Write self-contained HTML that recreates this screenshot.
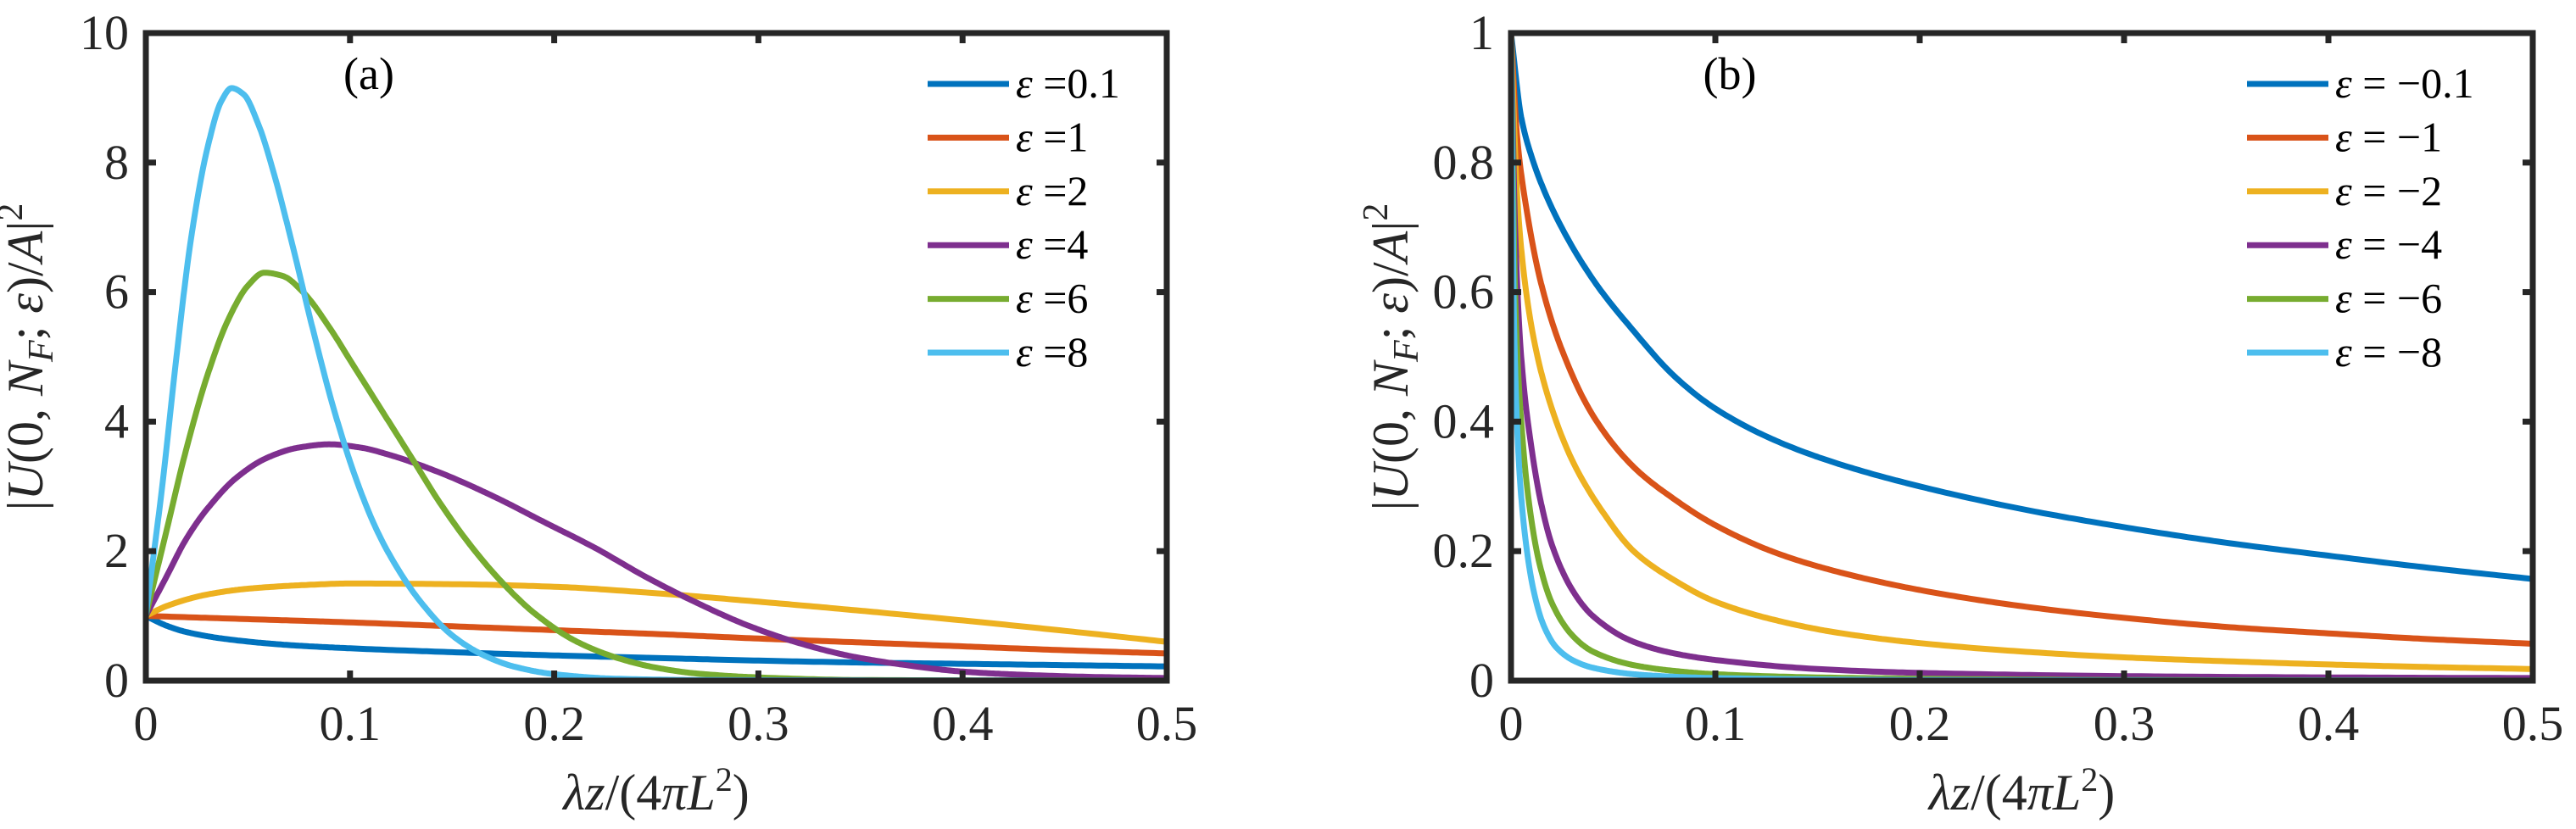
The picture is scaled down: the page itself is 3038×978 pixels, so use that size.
<!DOCTYPE html>
<html><head><meta charset="utf-8"><style>
body{margin:0;background:#fff;}
svg{display:block;font-family:"Liberation Serif",serif;}
</style></head><body>
<svg id="c" width="3038" height="978" xmlns="http://www.w3.org/2000/svg"></svg>
<script>
const colors=["#0072BD","#D95319","#EDB120","#7E2F8E","#77AC30","#4DBEEE"];
const labelsA=["ε =0.1","ε =1","ε =2","ε =4","ε =6","ε =8"];
const labelsB=["ε = −0.1","ε = −1","ε = −2","ε = −4","ε = −6","ε = −8"];
const xTicks=[0,0.1,0.2,0.3,0.4,0.5];
const yTicksA=[0,2,4,6,8,10];
const yTicksB=[0,0.2,0.4,0.6,0.8,1];
const yTickLabelsB=["0","0.2","0.4","0.6","0.8","1"];
// panel (a) series: [x, y] samples
const a01=[[0,1],[0.01,0.85],[0.02,0.75],[0.04,0.64],[0.07,0.55],[0.1,0.5],[0.15,0.44],[0.2,0.39],[0.25,0.35],[0.3,0.31],[0.35,0.28],[0.4,0.26],[0.45,0.24],[0.5,0.22]];
const a1=[[0,1],[0.05,0.95],[0.1,0.9],[0.15,0.84],[0.2,0.78],[0.25,0.72],[0.3,0.65],[0.35,0.59],[0.4,0.53],[0.45,0.47],[0.5,0.42]];
const a2=[[0,1],[0.01,1.15],[0.03,1.33],[0.05,1.42],[0.08,1.48],[0.1,1.5],[0.15,1.49],[0.2,1.45],[0.25,1.35],[0.3,1.22],[0.35,1.08],[0.4,0.93],[0.45,0.77],[0.5,0.6]];
const a4=[[0,1],[0.01,1.6],[0.02,2.2],[0.03,2.65],[0.045,3.15],[0.06,3.45],[0.075,3.6],[0.09,3.65],[0.105,3.6],[0.12,3.48],[0.145,3.2],[0.17,2.85],[0.195,2.45],[0.22,2.05],[0.245,1.6],[0.27,1.2],[0.295,0.85],[0.32,0.58],[0.345,0.38],[0.37,0.25],[0.4,0.14],[0.43,0.09],[0.46,0.06],[0.5,0.04]];
const a6=[[0,1],[0.01,2.3],[0.02,3.6],[0.03,4.7],[0.04,5.55],[0.05,6.1],[0.058,6.3],[0.067,6.25],[0.077,6.0],[0.09,5.45],[0.1,4.95],[0.115,4.2],[0.13,3.45],[0.145,2.7],[0.16,2.05],[0.175,1.5],[0.19,1.05],[0.21,0.62],[0.23,0.36],[0.25,0.2],[0.27,0.11],[0.3,0.05],[0.35,0.01],[0.5,0]];
const a8=[[0,1],[0.008,3.0],[0.015,5.0],[0.022,6.8],[0.03,8.2],[0.037,8.95],[0.042,9.15],[0.048,9.05],[0.055,8.6],[0.063,7.8],[0.072,6.7],[0.082,5.4],[0.092,4.2],[0.102,3.2],[0.112,2.4],[0.122,1.8],[0.135,1.2],[0.15,0.7],[0.165,0.4],[0.18,0.22],[0.2,0.1],[0.23,0.03],[0.27,0.01],[0.5,0]];
// panel (b) series
const b01=[[0,1],[0.005,0.87],[0.01,0.81],[0.02,0.73],[0.04,0.62],[0.06,0.54],[0.08,0.47],[0.1,0.42],[0.13,0.37],[0.16,0.335],[0.2,0.3],[0.25,0.265],[0.3,0.237],[0.35,0.213],[0.4,0.193],[0.45,0.174],[0.5,0.157]];
const b1=[[0,1],[0.003,0.84],[0.008,0.72],[0.015,0.61],[0.025,0.51],[0.04,0.41],[0.06,0.33],[0.08,0.28],[0.1,0.24],[0.13,0.197],[0.16,0.168],[0.2,0.14],[0.25,0.115],[0.3,0.097],[0.35,0.083],[0.4,0.073],[0.45,0.064],[0.5,0.057]];
const b2=[[0,1],[0.003,0.75],[0.007,0.61],[0.013,0.5],[0.02,0.42],[0.03,0.34],[0.045,0.26],[0.06,0.2],[0.08,0.155],[0.1,0.122],[0.13,0.093],[0.16,0.074],[0.2,0.058],[0.25,0.045],[0.3,0.036],[0.35,0.03],[0.4,0.025],[0.45,0.021],[0.5,0.018]];
const b4=[[0,1],[0.002,0.7],[0.005,0.5],[0.01,0.36],[0.015,0.27],[0.02,0.21],[0.03,0.14],[0.04,0.1],[0.06,0.06],[0.08,0.042],[0.1,0.032],[0.15,0.018],[0.2,0.012],[0.3,0.007],[0.4,0.005],[0.5,0.004]];
const b6=[[0,1],[0.002,0.6],[0.005,0.4],[0.009,0.27],[0.014,0.18],[0.02,0.12],[0.03,0.07],[0.04,0.045],[0.06,0.024],[0.08,0.015],[0.1,0.01],[0.15,0.005],[0.2,0.003],[0.3,0.001],[0.5,0]];
const b8=[[0,1],[0.0015,0.55],[0.004,0.33],[0.007,0.22],[0.011,0.14],[0.016,0.085],[0.022,0.052],[0.03,0.032],[0.04,0.02],[0.06,0.01],[0.08,0.006],[0.1,0.004],[0.2,0.001],[0.5,0]];
const seriesA=[a01,a1,a2,a4,a6,a8];
const seriesB=[b01,b1,b2,b4,b6,b8];

const svg=document.getElementById('c');
const NS="http://www.w3.org/2000/svg";
function mk(tag,attrs,parent){const e=document.createElementNS(NS,tag);for(const k in attrs)e.setAttribute(k,attrs[k]);(parent||svg).appendChild(e);return e;}
// monotone cubic interpolation (Fritsch-Carlson), sampled densely
function monoPath(pts,xs,ys){
 const n=pts.length,X=pts.map(p=>p[0]),Y=pts.map(p=>p[1]);
 const h=[],d=[];for(let i=0;i<n-1;i++){h[i]=X[i+1]-X[i];d[i]=(Y[i+1]-Y[i])/h[i];}
 const m=new Array(n);m[0]=d[0];m[n-1]=d[n-2];
 for(let i=1;i<n-1;i++){if(d[i-1]*d[i]<=0)m[i]=0;else{const w1=2*h[i]+h[i-1],w2=h[i]+2*h[i-1];m[i]=(w1+w2)/(w1/d[i-1]+w2/d[i]);}}
 let s="";
 for(let i=0;i<n-1;i++){const N=24;for(let k=(i==0?0:1);k<=N;k++){const t=k/N,t2=t*t,t3=t2*t;
  const y=(2*t3-3*t2+1)*Y[i]+(t3-2*t2+t)*h[i]*m[i]+(-2*t3+3*t2)*Y[i+1]+(t3-t2)*h[i]*m[i+1];
  const x=X[i]+t*h[i];s+=(s?"L":"M")+xs(x).toFixed(1)+","+ys(y).toFixed(1);}}
 return s;}
function panel(cfg){
 const {L,R,T,B,ymax,series,labels,yTicks,yLabels,tag,legX,tagX,name}=cfg;
 const g=mk('g',{},svg);
 
 
 const xs=v=>L+(v/0.5)*(R-L), ys=v=>B-(v/ymax)*(B-T);
 const cp='clip-'+name;
 const cl=mk('clipPath',{id:cp},g);mk('rect',{x:L,y:T-4,width:R-L,height:B-T+4},cl);
 series.forEach((s,i)=>{const p=mk('path',{d:monoPath(s,xs,ys),fill:'none',stroke:colors[i],'stroke-width':7,'stroke-linejoin':'round','clip-path':'url(#'+cp+')'},g);
  
  });
 const ax=mk('rect',{x:L,y:T,width:R-L,height:B-T,fill:'none',stroke:'#262626','stroke-width':7},g);
 
 
 xTicks.forEach(v=>{const x=xs(v);
  mk('line',{x1:x,x2:x,y1:B,y2:B-12,stroke:'#262626','stroke-width':7},g);
  mk('line',{x1:x,x2:x,y1:T,y2:T+12,stroke:'#262626','stroke-width':7},g);
  const t=mk('text',{x:x,y:B+70,'font-size':58,'text-anchor':'middle',fill:'#262626'},g);t.textContent=String(v);
  
  });
 yTicks.forEach((v,i)=>{const y=ys(v);
  mk('line',{x1:L,x2:L+12,y1:y,y2:y,stroke:'#262626','stroke-width':7},g);
  mk('line',{x1:R,x2:R-12,y1:y,y2:y,stroke:'#262626','stroke-width':7},g);
  const t=mk('text',{x:L-20,y:y+19,'font-size':58,'text-anchor':'end',fill:'#262626'},g);t.textContent=yLabels[i];
  
  });
 const xl=mk('text',{x:(L+R)/2,y:955,'font-size':60,'text-anchor':'middle',fill:'#262626'},g);
 xl.innerHTML='<tspan font-style="italic">λz</tspan>/(4<tspan font-style="italic">πL</tspan><tspan font-size="40" dy="-22">2</tspan><tspan dy="22">)</tspan>';
 
 
 const yx=L-122, yc=(T+B)/2;
 const yl=mk('text',{x:yx,y:yc,'font-size':60,'text-anchor':'middle',fill:'#262626',transform:'rotate(-90 '+yx+' '+yc+')'},g);
 yl.innerHTML='|<tspan font-style="italic">U</tspan>(0, <tspan font-style="italic">N</tspan><tspan font-style="italic" font-size="42" dy="12">F</tspan><tspan dy="-12">; </tspan><tspan font-style="italic">ε</tspan>)/<tspan font-style="italic">A</tspan>|<tspan font-size="42" dy="-24">2</tspan>';
 
 
 const tg=mk('text',{x:tagX,y:T+66,'font-size':54,'text-anchor':'middle',fill:'#000'},g);tg.textContent=tag;
 
 
 labels.forEach((lb,i)=>{const y=99+i*63.4;
  const e=mk('g',{},g);
  
  
  mk('line',{x1:legX,x2:legX+96,y1:y,y2:y,stroke:colors[i],'stroke-width':7},e);
  const t=mk('text',{x:legX+104,y:y+16,'font-size':50,fill:'#000'},e);
  t.innerHTML='<tspan font-style="italic">ε</tspan>'+lb.slice(1);});
}
panel({L:172,R:1376,T:39,B:803,ymax:10,series:seriesA,labels:labelsA,yTicks:yTicksA,yLabels:yTicksA.map(String),tag:'(a)',legX:1094,tagX:435,name:'panel-a'});
panel({L:1782,R:2987,T:39,B:803,ymax:1,series:seriesB,labels:labelsB,yTicks:yTicksB,yLabels:yTickLabelsB,tag:'(b)',legX:2650,tagX:2040,name:'panel-b'});
</script>
</body></html>
